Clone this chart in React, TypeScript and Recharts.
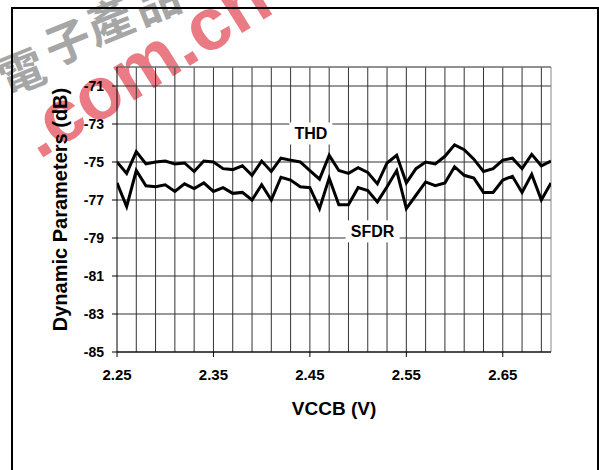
import React from "react";
import {
  LineChart,
  Line,
  XAxis,
  YAxis,
  CartesianGrid,
  ReferenceLine,
  ReferenceDot,
} from "recharts";

// supply voltage sweep (V)
const vccb = [
  2.25, 2.26, 2.27, 2.28, 2.29, 2.3, 2.31, 2.32, 2.33, 2.34, 2.35, 2.36, 2.37, 2.38, 2.39, 2.4,
  2.41, 2.42, 2.43, 2.44, 2.45, 2.46, 2.47, 2.48, 2.49, 2.5, 2.51, 2.52, 2.53, 2.54, 2.55, 2.56,
  2.57, 2.58, 2.59, 2.6, 2.61, 2.62, 2.63, 2.64, 2.65, 2.66, 2.67, 2.68, 2.69, 2.7,
];

const thd = [
  -75.0, -75.6, -74.45, -75.1, -75.0, -74.95, -75.1, -75.05, -75.5, -74.95, -75.0, -75.35,
  -75.4, -75.2, -75.7, -74.95, -75.5, -74.8, -74.9, -75.0, -75.45, -75.9, -74.65, -75.45,
  -75.6, -75.3, -75.55, -76.15, -75.05, -74.65, -76.1, -75.35, -75.0, -75.1, -74.7, -74.1,
  -74.35, -74.85, -75.5, -75.35, -74.9, -74.8, -75.35, -74.6, -75.2, -74.95,
];

const sfdr = [
  -76.1, -77.35, -75.45, -76.25, -76.3, -76.2, -76.55, -76.15, -76.4, -76.1, -76.55, -76.35,
  -76.65, -76.6, -77.0, -76.2, -77.0, -75.8, -75.95, -76.3, -76.35, -77.45, -75.85, -77.25,
  -77.25, -76.35, -76.5, -77.1, -76.3, -75.45, -77.45, -76.75, -76.05, -76.25, -76.1, -75.25,
  -75.7, -75.85, -76.6, -76.6, -75.95, -75.75, -76.6, -75.65, -77.0, -76.1,
];

const xTicks = [2.25, 2.35, 2.45, 2.55, 2.65];
const yTicks = [-85, -83, -81, -79, -77, -75, -73, -71];
const xGrid = [
  2.27, 2.29, 2.31, 2.33, 2.35, 2.37, 2.39, 2.41, 2.43, 2.45, 2.47, 2.49, 2.51, 2.53, 2.55,
  2.57, 2.59, 2.61, 2.63, 2.65, 2.67, 2.69,
];

const seriesLabels = [
  { name: "THD", x: 2.451, y: -73.5 },
  { name: "SFDR", x: 2.515, y: -78.65 },
];

const data = vccb.map((v, i) => ({ v, thd: thd[i], sfdr: sfdr[i] }));

const FONT = "'Liberation Sans', Arial, sans-serif";

function TagShape(props: any) {
  const { cx, cy, text } = props;
  const w = text.length * 11 + 10;
  return (
    <g>
      <rect x={cx - w / 2} y={cy - 11} width={w} height={22} fill="#fff" />
      <text
        x={cx}
        y={cy}
        dy="0.36em"
        textAnchor="middle"
        fontFamily={FONT}
        fontWeight="bold"
        fontSize={16}
        fill="#000"
      >
        {text}
      </text>
    </g>
  );
}

// the site watermark that sits behind the plot in the scan
function Watermark() {
  const chars = [
    { c: "電", x: 22, y: 73 },
    { c: "子", x: 68, y: 43 },
    { c: "產", x: 110, y: 22 },
    { c: "品", x: 157, y: 2 },
  ];
  return (
    <svg width={599} height={470} style={{ position: "absolute", left: 0, top: 0 }}>
      {chars.map((ch) => (
        <text
          key={ch.c}
          x={ch.x}
          y={ch.y}
          dy="0.35em"
          textAnchor="middle"
          fontFamily="'Noto Sans CJK TC', sans-serif"
          fontWeight="bold"
          fontSize={46}
          fill="#a6a6a6"
          transform={`rotate(-22 ${ch.x} ${ch.y})`}
        >
          {ch.c}
        </text>
      ))}
      <text
        x={39}
        y={160}
        fontFamily={FONT}
        fontWeight="bold"
        fontSize={74}
        fill="#ea7a83"
        transform="rotate(-32 39 160)"
      >
        .com.cn
      </text>
    </svg>
  );
}

export default function App() {
  return (
    <div
      style={{
        position: "absolute",
        left: 0,
        top: 0,
        width: 599,
        height: 470,
        background: "#fff",
        overflow: "hidden",
      }}
    >
      <Watermark />
      <div
        style={{
          position: "absolute",
          left: 11,
          top: 7,
          width: 584,
          height: 480,
          border: "2px solid #000",
          borderRightWidth: 3,
        }}
      />
      <div style={{ position: "absolute", left: 0, top: 0 }}>
        <LineChart
          width={599}
          height={470}
          data={data}
          margin={{ top: 67, right: 48, left: 57, bottom: 88 }}
        >
          <CartesianGrid vertical={false} stroke="#333" strokeWidth={1} />
          {xGrid.map((g) => (
            <ReferenceLine key={g} x={g} stroke="#333" strokeWidth={1} />
          ))}
          <ReferenceLine x={2.7} stroke="#888" strokeWidth={1} />
          <ReferenceLine y={-70} stroke="#888" strokeWidth={1} />
          <XAxis
            dataKey="v"
            type="number"
            domain={[2.25, 2.7]}
            ticks={xTicks}
            allowDataOverflow
            tickFormatter={(t: number) => t.toFixed(2)}
            height={30}
            tickSize={5}
            tickMargin={12}
            stroke="#000"
            tick={{ fill: "#000", fontSize: 15, fontWeight: "bold", fontFamily: FONT }}
            label={{
              value: "VCCB (V)",
              position: "bottom",
              offset: 20,
              style: { fill: "#000", fontSize: 19, fontWeight: "bold", fontFamily: FONT },
            }}
          />
          <YAxis
            type="number"
            domain={[-85, -70]}
            ticks={yTicks}
            allowDataOverflow
            width={60}
            tickSize={5}
            tickMargin={8}
            stroke="#000"
            tick={{ fill: "#000", fontSize: 14, fontWeight: "bold", fontFamily: FONT }}
            label={{
              value: "Dynamic Parameters (dB)",
              angle: -90,
              position: "insideLeft",
              offset: 3,
              style: {
                textAnchor: "middle",
                fill: "#000",
                fontSize: 20,
                fontWeight: "bold",
                fontFamily: FONT,
              },
            }}
          />
          <Line
            type="linear"
            dataKey="thd"
            stroke="#000"
            strokeWidth={3}
            dot={false}
            isAnimationActive={false}
          />
          <Line
            type="linear"
            dataKey="sfdr"
            stroke="#000"
            strokeWidth={3}
            dot={false}
            isAnimationActive={false}
          />
          {seriesLabels.map((l) => (
            <ReferenceDot
              key={l.name}
              x={l.x}
              y={l.y}
              r={0}
              shape={(p: any) => <TagShape {...p} text={l.name} />}
            />
          ))}
        </LineChart>
      </div>
    </div>
  );
}
